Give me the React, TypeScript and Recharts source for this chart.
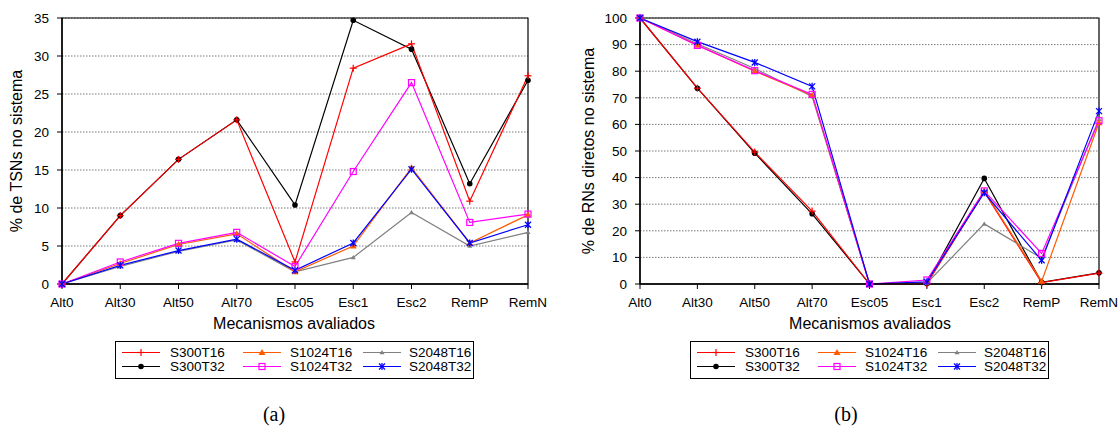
import React from 'react'
import {
  LineChart,
  Line,
  XAxis,
  YAxis,
  CartesianGrid,
  ReferenceArea,
} from 'recharts'

const categories = ['Alt0', 'Alt30', 'Alt50', 'Alt70', 'Esc05', 'Esc1', 'Esc2', 'RemP', 'RemN']

// (a) % de TSNs no sistema
const tsnS300T16 = [0, 9.0, 16.4, 21.6, 2.9, 28.4, 31.6, 10.9, 27.4]
const tsnS300T32 = [0, 9.0, 16.4, 21.6, 10.4, 34.7, 30.9, 13.2, 26.8]
const tsnS1024T16 = [0, 2.7, 5.2, 6.6, 1.6, 5.0, 15.3, 5.4, 9.1]
const tsnS1024T32 = [0, 2.9, 5.35, 6.8, 2.3, 14.8, 26.5, 8.1, 9.2]
const tsnS2048T16 = [0, 2.3, 4.3, 5.8, 1.6, 3.5, 9.4, 5.0, 6.8]
const tsnS2048T32 = [0, 2.45, 4.4, 5.9, 1.8, 5.4, 15.1, 5.4, 7.8]

// (b) % de RNs diretos no sistema
const rnS300T16 = [100, 73.6, 49.6, 27.4, 0, 0, 34.6, 0.5, 4.1]
const rnS300T32 = [100, 73.6, 49.2, 26.4, 0, 0.2, 39.7, 0.6, 4.2]
const rnS1024T16 = [100, 89.8, 80.0, 71.0, 0, 0.5, 35.0, 1.0, 60.6]
const rnS1024T32 = [100, 89.7, 80.2, 71.3, 0, 1.5, 35.0, 11.5, 61.4]
const rnS2048T16 = [100, 90.3, 81.0, 70.5, 0, 0.3, 22.6, 9.7, 62.0]
const rnS2048T32 = [100, 91.1, 83.3, 74.3, 0, 0.8, 34.3, 8.9, 65.0]

const tsnTicks = [0, 5, 10, 15, 20, 25, 30, 35]
const rnTicks = [0, 10, 20, 30, 40, 50, 60, 70, 80, 90, 100]

type Shape = 'plus' | 'circle' | 'triangle' | 'square' | 'smallTriangle' | 'star'

interface SeriesDef {
  key: string
  name: string
  color: string
  shape: Shape
}

// drawing order: later series sit on top
const series: SeriesDef[] = [
  { key: 's300t32', name: 'S300T32', color: '#000000', shape: 'circle' },
  { key: 's300t16', name: 'S300T16', color: '#ff0000', shape: 'plus' },
  { key: 's2048t16', name: 'S2048T16', color: '#808080', shape: 'smallTriangle' },
  { key: 's1024t16', name: 'S1024T16', color: '#ff5a00', shape: 'triangle' },
  { key: 's1024t32', name: 'S1024T32', color: '#ff00ff', shape: 'square' },
  { key: 's2048t32', name: 'S2048T32', color: '#0000ff', shape: 'star' },
]

// legend laid out in 3 columns x 2 rows
const legendGrid = [
  ['S300T16', 'S1024T16', 'S2048T16'],
  ['S300T32', 'S1024T32', 'S2048T32'],
]

function buildRows(values: Record<string, number[]>) {
  return categories.map((c, i) => {
    const row: Record<string, string | number> = { cat: c }
    for (const k of Object.keys(values)) row[k] = values[k][i]
    return row
  })
}

const tsnData = buildRows({
  s300t16: tsnS300T16,
  s300t32: tsnS300T32,
  s1024t16: tsnS1024T16,
  s1024t32: tsnS1024T32,
  s2048t16: tsnS2048T16,
  s2048t32: tsnS2048T32,
})

const rnData = buildRows({
  s300t16: rnS300T16,
  s300t32: rnS300T32,
  s1024t16: rnS1024T16,
  s1024t32: rnS1024T32,
  s2048t16: rnS2048T16,
  s2048t32: rnS2048T32,
})

const FONT = '"Liberation Sans", Arial, sans-serif'

function Marker({ shape, x, y, color }: { shape: Shape; x: number; y: number; color: string }) {
  switch (shape) {
    case 'plus':
      return (
        <g stroke={color} strokeWidth={1.2}>
          <line x1={x} y1={y - 3.5} x2={x} y2={y + 3.5} />
          <line x1={x - 3.5} y1={y} x2={x + 3.5} y2={y} />
        </g>
      )
    case 'circle':
      return <circle cx={x} cy={y} r={2.8} fill={color} />
    case 'triangle':
      return <polygon points={`${x},${y - 3.5} ${x + 3.5},${y + 2.5} ${x - 3.5},${y + 2.5}`} fill={color} />
    case 'smallTriangle':
      return <polygon points={`${x},${y - 2.5} ${x + 2.5},${y + 1.8} ${x - 2.5},${y + 1.8}`} fill={color} />
    case 'square':
      return <rect x={x - 3} y={y - 3} width={6} height={6} fill='none' stroke={color} strokeWidth={1.2} />
    case 'star':
      return (
        <g stroke={color} strokeWidth={1.3}>
          <line x1={x - 3} y1={y - 3} x2={x + 3} y2={y + 3} />
          <line x1={x - 3} y1={y + 3} x2={x + 3} y2={y - 3} />
          <line x1={x} y1={y - 3.5} x2={x} y2={y + 3.5} />
        </g>
      )
  }
}

function makeDot(s: SeriesDef) {
  return (props: any) => {
    const { cx, cy, index } = props
    if (cx == null || cy == null) return <g key={`${s.key}-${index}`} />
    return (
      <g key={`${s.key}-${index}`}>
        <Marker shape={s.shape} x={cx} y={cy} color={s.color} />
      </g>
    )
  }
}

function Panel({
  data,
  ticks,
  max,
  yWidth,
  marginLeft,
  marginRight,
}: {
  data: Record<string, string | number>[]
  ticks: number[]
  max: number
  yWidth: number
  marginLeft: number
  marginRight: number
}) {
  return (
    <LineChart
      width={560}
      height={315}
      data={data}
      margin={{ top: 18, right: marginRight, left: marginLeft, bottom: 6 }}
    >
      <CartesianGrid horizontal vertical={false} stroke='#7a7a7a' strokeDasharray='1.5 1.5' />
      <ReferenceArea
        x1='Alt0'
        x2='RemN'
        y1={0}
        y2={max}
        fill='none'
        stroke='#000'
        strokeWidth={1.2}
        ifOverflow='visible'
      />
      <XAxis
        dataKey='cat'
        height={25}
        tickSize={5}
        tickMargin={8}
        interval={0}
        axisLine={{ stroke: '#000', strokeWidth: 1.4 }}
        tickLine={{ stroke: '#000' }}
        tick={{ fontSize: 13.5, fill: '#000', fontFamily: FONT }}
      />
      <YAxis
        width={yWidth}
        domain={[0, max]}
        ticks={ticks}
        tickSize={5}
        tickMargin={8}
        interval={0}
        axisLine={{ stroke: '#000', strokeWidth: 1.4 }}
        tickLine={{ stroke: '#000' }}
        tick={{ fontSize: 13.5, fill: '#000', fontFamily: FONT }}
      />
      {series.map((s) => (
        <Line
          key={s.key}
          type='linear'
          dataKey={s.key}
          name={s.name}
          stroke={s.color}
          strokeWidth={1.2}
          dot={makeDot(s)}
          activeDot={false}
          isAnimationActive={false}
        />
      ))}
    </LineChart>
  )
}

function LegendBox({ left, top }: { left: number; top: number }) {
  const colLine = [7, 128, 248]
  const colText = [55, 175, 294]
  const rowY = [11, 25]
  return (
    <svg
      style={{ position: 'absolute', left, top }}
      width={360}
      height={38}
    >
      <rect x={0.5} y={0.5} width={358} height={37} fill='#fff' stroke='#000' strokeWidth={1} />
      {legendGrid.map((row, r) =>
        row.map((name, c) => {
          const s = series.find((d) => d.name === name)!
          const y = rowY[r] + 0.5
          const x0 = colLine[c]
          return (
            <g key={name}>
              <line x1={x0} y1={y} x2={x0 + 38} y2={y} stroke={s.color} strokeWidth={1.2} />
              <Marker shape={s.shape} x={x0 + 19} y={y} color={s.color} />
              <text
                x={colText[c]}
                y={y}
                dy='0.36em'
                fontSize={13.5}
                fontFamily={FONT}
                fill='#000'
              >
                {name}
              </text>
            </g>
          )
        })
      )}
    </svg>
  )
}

function AxisTitle({ x, y, text, rotate }: { x: number; y: number; text: string; rotate?: boolean }) {
  return (
    <div
      style={{
        position: 'absolute',
        left: x,
        top: y,
        transform: `translate(-50%, -50%)${rotate ? ' rotate(-90deg)' : ''}`,
        whiteSpace: 'nowrap',
        fontFamily: FONT,
        fontSize: 16,
        color: '#000',
        lineHeight: 1,
      }}
    >
      {text}
    </div>
  )
}

function Caption({ x, y, text }: { x: number; y: number; text: string }) {
  return (
    <div
      style={{
        position: 'absolute',
        left: x,
        top: y,
        transform: 'translate(-50%, -50%)',
        fontFamily: '"Liberation Serif", "Times New Roman", serif',
        fontSize: 20,
        color: '#000',
        lineHeight: 1,
      }}
    >
      {text}
    </div>
  )
}

export default function App() {
  return (
    <div
      style={{
        position: 'absolute',
        left: 0,
        top: 0,
        width: 1120,
        height: 427,
        background: '#fff',
        overflow: 'hidden',
      }}
    >
      <div style={{ position: 'absolute', left: 0, top: 0 }}>
        <Panel data={tsnData} ticks={tsnTicks} max={35} yWidth={30} marginLeft={32} marginRight={32} />
      </div>
      <div style={{ position: 'absolute', left: 560, top: 0 }}>
        <Panel data={rnData} ticks={rnTicks} max={100} yWidth={40} marginLeft={40} marginRight={21} />
      </div>

      <AxisTitle x={17} y={151} text='% de TSNs no sistema' rotate />
      <AxisTitle x={589} y={151} text='% de RNs diretos no sistema' rotate />
      <AxisTitle x={294} y={324} text='Mecanismos avaliados' />
      <AxisTitle x={870} y={324} text='Mecanismos avaliados' />

      <LegendBox left={115} top={341} />
      <LegendBox left={690} top={341} />

      <Caption x={274} y={414} text='(a)' />
      <Caption x={846} y={414} text='(b)' />
    </div>
  )
}
